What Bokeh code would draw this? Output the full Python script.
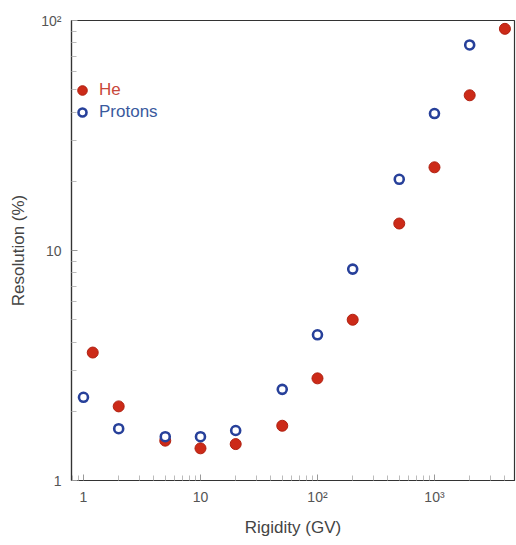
from bokeh.plotting import figure
from bokeh.models import FixedTicker, Legend, LegendItem
from bokeh.embed import file_html
from bokeh.resources import INLINE

# Data (rigidity in GV, resolution in %)
proton_rigidity = [1, 2, 5, 10, 20, 50, 100, 200, 500, 1000, 2000]
proton_resolution = [2.30, 1.68, 1.55, 1.55, 1.65, 2.49, 4.3, 8.3, 20.4, 39.4, 78.3]

he_rigidity = [1.2, 2, 5, 10, 20, 50, 100, 200, 500, 1000, 2000, 4000]
he_resolution = [3.6, 2.1, 1.49, 1.38, 1.44, 1.73, 2.78, 5.0, 13.1, 23.0, 47.3, 92.0]

x_major = [1, 10, 100, 1000]
x_labels = {1: "1", 10: "10", 100: "10²", 1000: "10³"}
y_major = [1, 10, 100]
y_labels = {1: "1", 10: "10", 100: "10²"}

FONT = "Liberation Sans"
RED = "#cc2a18"
BLUE = "#27409a"

p = figure(width=516, height=545, x_axis_type="log", y_axis_type="log",
           x_range=(0.79, 4830), y_range=(1, 100),
           output_backend="svg", toolbar_location=None,
           min_border_left=71, min_border_right=2, min_border_top=20, min_border_bottom=65)
p.background_fill_color = "white"
p.border_fill_color = "white"
p.outline_line_color = "#333333"
p.outline_line_width = 1.2
p.xgrid.visible = False
p.ygrid.visible = False

def minors(lo, hi):
    out = []
    d = lo
    while d < hi:
        for m in range(2, 10):
            if d * m <= hi:
                out.append(d * m)
        d *= 10
    return out

p.xaxis.ticker = FixedTicker(ticks=x_major, minor_ticks=minors(0.1, 5000))
p.yaxis.ticker = FixedTicker(ticks=y_major, minor_ticks=minors(1, 100))
p.xaxis.major_label_overrides = x_labels
p.yaxis.major_label_overrides = y_labels

for ax in (p.xaxis[0], p.yaxis[0]):
    ax.axis_line_color = "#333333"
    ax.axis_line_width = 1.2
    ax.major_tick_in = 6
    ax.major_tick_out = 0
    ax.minor_tick_in = 5
    ax.minor_tick_out = 0
    ax.major_tick_line_color = "#999999"
    ax.minor_tick_line_color = "#bbbbbb"
    ax.major_label_text_font = FONT
    ax.major_label_text_font_size = "14px"
    ax.major_label_text_color = "#555555"
    ax.axis_label_text_font = FONT
    ax.axis_label_text_font_size = "17px"
    ax.axis_label_text_font_style = "normal"
    ax.axis_label_text_color = "#444444"

p.xaxis.axis_label = "Rigidity (GV)"
p.yaxis.axis_label = "Resolution (%)"
p.xaxis.major_label_standoff = 8
p.yaxis.major_label_standoff = 10
p.xaxis.axis_label_standoff = 10
p.yaxis.axis_label_standoff = 10

he = p.scatter(he_rigidity, he_resolution, size=11, marker="circle",
               fill_color=RED, line_color="#b02010", line_width=1)
pr = p.scatter(proton_rigidity, proton_resolution, size=9, marker="circle",
               fill_color="white", line_color=BLUE, line_width=2.6)

leg1 = Legend(items=[LegendItem(label="He", renderers=[he])], location=(-1, 378),
              label_text_color="#c8483a", label_text_font=FONT, label_text_font_size="17px",
              padding=0, margin=0, glyph_width=24, glyph_height=24, label_standoff=5,
              border_line_color=None, background_fill_alpha=0)
leg2 = Legend(items=[LegendItem(label="Protons", renderers=[pr])], location=(1, 358),
              label_text_color="#3a5a9e", label_text_font=FONT, label_text_font_size="17px",
              padding=0, margin=0, glyph_width=20, glyph_height=20, label_standoff=7,
              border_line_color=None, background_fill_alpha=0)
p.add_layout(leg1)
p.add_layout(leg2)

open("out.html", "w").write(file_html(p, INLINE))
